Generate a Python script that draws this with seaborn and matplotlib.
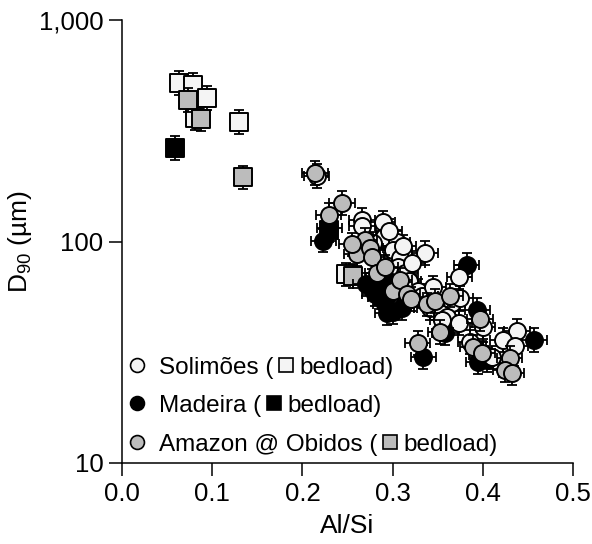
import numpy as np
import pandas as pd
import matplotlib
matplotlib.use("Agg")
import matplotlib.pyplot as plt
import seaborn as sns

# --- suspended sediment (circles), Al/Si vs D90 (um) ---
sol_x = [0.216, 0.266, 0.266, 0.289, 0.290, 0.305, 0.336, 0.300, 0.308, 0.306,
         0.314, 0.318, 0.328, 0.333, 0.345, 0.374, 0.341, 0.366, 0.375, 0.355,
         0.360, 0.355, 0.374, 0.386, 0.400, 0.438, 0.422, 0.436, 0.410, 0.296,
         0.312, 0.278, 0.322]
sol_y = [198, 125, 117, 122, 105, 99.5, 88.7, 92, 84, 77,
         72, 66, 60, 57, 62, 69, 50, 52.7, 55.6, 47,
         45.6, 44, 42.9, 35.2, 41, 39.4, 35.9, 33.7, 30, 112,
         95, 98, 80]

mad_x = [0.223, 0.230, 0.270, 0.280, 0.283, 0.287, 0.289, 0.292, 0.294, 0.300,
         0.310, 0.334, 0.358, 0.382, 0.394, 0.395, 0.400, 0.405, 0.457]
mad_y = [101, 115, 64, 58, 62, 56, 69, 52, 47.5, 48,
         50, 30.1, 38.6, 78.4, 49, 28.6, 31, 29.2, 35.9]

ama_x = [0.214, 0.244, 0.229, 0.260, 0.269, 0.275, 0.277, 0.283, 0.292, 0.300,
         0.308, 0.316, 0.320, 0.338, 0.347, 0.364, 0.353, 0.328, 0.397, 0.389,
         0.399, 0.430, 0.425, 0.432, 0.255]
ama_y = [204, 149, 132, 88, 102, 93.5, 85, 72, 77, 60,
         67, 58, 55, 52, 54, 57, 39, 34.8, 44.7, 33.4,
         31.4, 29.8, 26.3, 25.5, 97]

# --- bedload (squares) ---
sol_bed_x = [0.063, 0.079, 0.094, 0.081, 0.130, 0.248]
sol_bed_y = [520, 509, 444, 361, 346, 71]
mad_bed_x = [0.059, 0.229]
mad_bed_y = [264, 113]
ama_bed_x = [0.073, 0.088, 0.134, 0.256]
ama_bed_y = [435, 357, 195, 70]

rivers = ["Solimões", "Madeira", "Amazon @ Obidos"]
colors = {"Solimões": "#f4f4f4", "Madeira": "#000000", "Amazon @ Obidos": "#bcbcbc"}

frames = []
for name, xs, ys, kind in [
    ("Solimões", sol_x, sol_y, "suspended"),
    ("Madeira", mad_x, mad_y, "suspended"),
    ("Amazon @ Obidos", ama_x, ama_y, "suspended"),
    ("Solimões", sol_bed_x, sol_bed_y, "bedload"),
    ("Madeira", mad_bed_x, mad_bed_y, "bedload"),
    ("Amazon @ Obidos", ama_bed_x, ama_bed_y, "bedload"),
]:
    frames.append(pd.DataFrame({"AlSi": xs, "D90": ys, "river": name, "kind": kind}))
df = pd.concat(frames, ignore_index=True)

sns.set_theme(style="ticks")
plt.rcParams["font.family"] = ["Liberation Sans", "DejaVu Sans"]
plt.rcParams["text.color"] = "black"
plt.rcParams["axes.labelcolor"] = "black"
plt.rcParams["mathtext.fontset"] = "custom"
plt.rcParams["mathtext.rm"] = "Liberation Sans"
plt.rcParams["mathtext.it"] = "Liberation Sans:italic"

fig = plt.figure(figsize=(5.92, 5.44), dpi=100)
ax = fig.add_axes([0.2061, 0.1489, 0.7618, 0.8143])

xerr = {"suspended": 0.014, "bedload": 0.004}
yrel = 1.13
markers = {"suspended": "o", "bedload": "s"}
sizes = {"suspended": 150, "bedload": 150}

draw_order = [("bedload", "Solimões"), ("bedload", "Madeira"), ("bedload", "Amazon @ Obidos"),
              ("suspended", "Madeira"), ("suspended", "Solimões"), ("suspended", "Amazon @ Obidos")]
z = 2
for kind, name in draw_order:
    sub = df[(df.kind == kind) & (df.river == name)]
    y = sub["D90"].to_numpy()
    ax.errorbar(sub["AlSi"], y, xerr=xerr[kind], yerr=[y - y / yrel, y * yrel - y],
                fmt="none", ecolor="black", elinewidth=1.3, capsize=3.8, capthick=1.3, zorder=z)
    sns.scatterplot(data=sub, x="AlSi", y="D90", marker=markers[kind], s=sizes[kind],
                    color=colors[name], edgecolor="black", linewidth=1.4, ax=ax,
                    zorder=z + 1, legend=False)
    z += 2

ax.set_yscale("log")
ax.set_xlim(0, 0.5)
ax.set_ylim(10, 1000)
ax.set_xticks([0.0, 0.1, 0.2, 0.3, 0.4, 0.5])
ax.set_xticklabels(["0.0", "0.1", "0.2", "0.3", "0.4", "0.5"])
ax.set_yticks([10, 100, 1000])
ax.set_yticklabels(["10", "100", "1,000"])
ax.minorticks_off()
ax.tick_params(direction="out", length=9.5, width=1.1, labelsize=18.5, pad=4,
               colors="black", labelcolor="black")
for side in ["top", "right"]:
    ax.spines[side].set_visible(False)
for side in ["left", "bottom"]:
    ax.spines[side].set_linewidth(1.1)
    ax.spines[side].set_color("black")
ax.set_xlabel("Al/Si", fontsize=19, labelpad=6)
ax.set_ylabel(r"D$_{90}$ (µm)", fontsize=19, labelpad=3)

# hand-made legend: "o River ( [] bedload)"
fig.canvas.draw()
renderer = fig.canvas.get_renderer()
leg_y = [0.221, 0.135, 0.047]
px = 1.0 / 451
for name, yy in zip(rivers, leg_y):
    ax.plot([0.033], [yy], marker="o", ms=10, mfc=colors[name], mec="black", mew=1.2,
            transform=ax.transAxes, clip_on=False, zorder=50)
    t = ax.text(0.082, yy, f"{name} (", transform=ax.transAxes, ha="left",
                va="center_baseline", fontsize=17.5, zorder=50)
    bb = t.get_window_extent(renderer).transformed(ax.transAxes.inverted())
    ax.plot([bb.x1 + 13 * px], [yy], marker="s", ms=10.5, mfc=colors[name], mec="black", mew=1.2,
            transform=ax.transAxes, clip_on=False, zorder=50)
    ax.text(bb.x1 + 26 * px, yy, "bedload)", transform=ax.transAxes, ha="left",
            va="center_baseline", fontsize=17.5, zorder=50)

fig.savefig("out.png", dpi=100)
